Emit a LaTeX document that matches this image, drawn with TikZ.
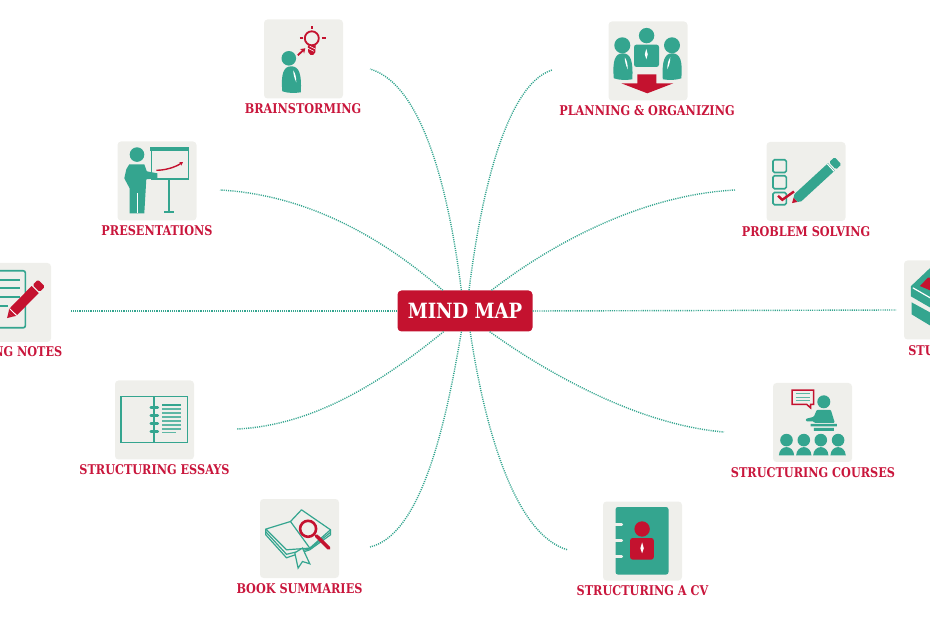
\documentclass[tikz,border=0pt]{standalone}
\usepackage{fontspec}
\usepackage{xcolor}
\usetikzlibrary{calc,arrows.meta}
\newfontfamily\maplabelfont[FakeStretch=0.84]{DejaVu Serif}
\newfontfamily\mapheadfont[FakeStretch=0.86]{DejaVu Serif}
\definecolor{map_red}{HTML}{C4122F}
\definecolor{map_rose}{HTML}{C9163C}
\definecolor{map_teal}{HTML}{34A58F}
\definecolor{map_paper}{HTML}{EFEFEB}
\tikzset{
    map_tile/.style={fill=map_paper,rounded corners=3.5,minimum size=79,inner sep=0},
    map_label/.style={text=map_rose,font=\maplabelfont\bfseries\fontsize{13.4}{14}\selectfont,text height=10,text depth=0,inner sep=0,yshift=-0.8},
    map_link/.style={map_teal,line width=1.4,dash pattern=on 1.1 off 1.1},
    icon_line/.style={map_teal,line width=1.6},
    icon_red/.style={map_red,line width=1.8},
}
% bust with a white sliver: centre x, top y, side
\newcommand{\mapbust}[3]{
  \fill[map_teal,shift={(#1,#2)},xscale=#3] (-9,25) .. controls (-10.5,8) and (-8,0) .. (0,0) .. controls (8,0) and (10.5,8) .. (9.5,26) .. controls (3,27) and (-3,27) .. cycle;
  \fill[white,shift={(#1,#2)},xscale=#3] (2,4) .. controls (4,7) and (5,11) .. (5,16) .. controls (3,12) and (2,8) .. cycle;
}
% pencil: tip x, tip y, angle, length, body colour, tip colour
\newcommand{\mappencil}[6]{
  \begin{scope}[shift={(#1,#2)},rotate=#3]
    \fill[#6] (0,0) -- (5,3) -- (5,-3) -- cycle;
    \fill[#5] (5,3) -- (8,5) -- ({#4-9},5) -- ({#4-9},-5) -- (8,-5) -- (5,-3) -- cycle;
    \fill[#5,rounded corners=1.5] ({#4-7.5},5) -- (#4,5) -- (#4,-5) -- ({#4-7.5},-5) -- cycle;
  \end{scope}
}
\begin{document}
\begin{tikzpicture}[x=1pt,y=-1pt]
  \useasboundingbox (0,0) rectangle (930,620);
  \node[fill=map_red,rounded corners=4,minimum width=135,minimum height=41,inner sep=0,text=white,font=\mapheadfont\bfseries\fontsize{21}{22}\selectfont] (mind_map) at (465,311) {MIND MAP};
  % tiles
  \node[map_tile] (tile_brain) at (303.5,59) {};
  \node[map_tile] (tile_plan) at (648,61) {};
  \node[map_tile] (tile_pres) at (157,181) {};
  \node[map_tile] (tile_prob) at (806,181.5) {};
  \node[map_tile] (tile_notes) at (11.5,302.5) {};
  \node[map_tile] (tile_study) at (943.5,300) {};
  \node[map_tile] (tile_essay) at (154.5,420) {};
  \node[map_tile] (tile_course) at (812.5,422.5) {};
  \node[map_tile] (tile_book) at (299.5,538.5) {};
  \node[map_tile] (tile_cv) at (642.5,541) {};
  % labels
  \node[map_label] (label_brain) at (303,108) {BRAINSTORMING};
  \node[map_label] (label_plan) at (647,110) {PLANNING \& ORGANIZING};
  \node[map_label] (label_pres) at (157,230) {PRESENTATIONS};
  \node[map_label] (label_prob) at (806,231) {PROBLEM SOLVING};
  \node[map_label] (label_notes) at (12,351) {TAKING NOTES};
  \node[map_label] (label_study) at (943,350) {STUDYING};
  \node[map_label] (label_essay) at (154.5,469) {STRUCTURING ESSAYS};
  \node[map_label] (label_course) at (813,472) {STRUCTURING COURSES};
  \node[map_label] (label_book) at (299.5,588) {BOOK SUMMARIES};
  \node[map_label] (label_cv) at (642.5,590) {STRUCTURING A CV};
  % free ends of the links
  \coordinate (end_brain) at (370,69);
  \coordinate (end_plan) at (552,70);
  \coordinate (end_pres) at (220,190);
  \coordinate (end_prob) at (735,190);
  \coordinate (end_notes) at (70,311);
  \coordinate (end_study) at (896,310);
  \coordinate (end_essay) at (237,429);
  \coordinate (end_course) at (724,432);
  \coordinate (end_book) at (370,547);
  \coordinate (end_cv) at (568,550);
  % links
  \draw[map_link] (mind_map.100.8) .. controls (450,200) and (425,85) .. (end_brain);
  \draw[map_link] (mind_map.79) .. controls (480,200) and (505,85) .. (end_plan);
  \draw[map_link] (mind_map.137.6) .. controls (385,240) and (310,195) .. (end_pres);
  \draw[map_link] (mind_map.38) .. controls (550,245) and (640,195) .. (end_prob);
  \draw[map_link] (mind_map.west) -- (end_notes);
  \draw[map_link] (mind_map.east) -- (end_study);
  \draw[map_link] (mind_map.-136) .. controls (390,375) and (320,425) .. (end_essay);
  \draw[map_link] (mind_map.-40) .. controls (550,375) and (640,425) .. (end_course);
  \draw[map_link] (mind_map.-100.8) .. controls (445,430) and (420,535) .. (end_book);
  \draw[map_link] (mind_map.-76.6) .. controls (485,430) and (515,535) .. (end_cv);
  % brainstorming icon
  \begin{scope}[shift={(tile_brain.north west)}]
    \fill[map_teal] (25,39) circle (7.3);
    \mapbust{27.5}{47}{1}
    \draw[icon_red] (48,19) circle (7);
    \fill[map_red] (44,26) -- (52,26) -- (51.5,33) -- (49.5,35.5) -- (46.5,35.5) -- (44.5,33) -- cycle;
    \draw[white,line width=0.6] (44,29) -- (50,32) (46,27) -- (52,30);
    \draw[icon_red] (48,7) -- (48,10) (36,19) -- (39,19) (58,19) -- (62,19);
    \draw[-{Stealth[length=4.5,width=6]},icon_red] (34,36) -- (41.5,29);
  \end{scope}
  % planning icon
  \begin{scope}[shift={(tile_plan.north west)}]
    \fill[map_teal] (38.3,14.3) circle (7.7) (14,24) circle (8) (63.7,24) circle (8);
    \fill[map_teal,rounded corners=2.5] (25.7,23.3) rectangle (50.7,45.7);
    \fill[white] (38,27.5) -- (39.5,33) -- (38,38) -- (36.5,33) -- cycle;
    \mapbust{14.5}{32}{1}
    \mapbust{64}{32}{-1}
    \fill[map_red] (29,53) -- (48,53) -- (48,62) -- (65,62) -- (39,72) -- (13,62) -- (29,62) -- cycle;
  \end{scope}
  % presentations icon
  \begin{scope}[shift={(tile_pres.north west)}]
    \fill[map_teal] (19.7,13.3) circle (7.3);
    \fill[map_teal] (12,23) -- (27,23) -- (29.5,30) -- (40,32) -- (40,37) -- (29,38) -- (27,72) -- (12.3,72) -- (12.3,47) -- (7,37) -- (9,28) -- cycle;
    \draw[white,line width=1] (19.7,52) -- (19.7,72);
    \draw[icon_line] (34,8) rectangle (71,38);
    \fill[map_teal] (32.5,6) rectangle (72,10);
    \draw[icon_line] (51.7,38) -- (51.7,70);
    \draw[map_teal,line width=2.2] (47,71) -- (57,71);
    \draw[-{Stealth[length=3.5,width=4]},map_red,line width=1.4] (39,29) .. controls (48,29) and (58,26) .. (65.7,20.7);
  \end{scope}
  % problem solving icon
  \begin{scope}[shift={(tile_prob.north west)}]
    \draw[icon_line,rounded corners=1.5] (6.7,18) rectangle (20,30.7) (6.7,34) rectangle (20,47) (6.7,50.7) rectangle (20,63);
    \draw[map_red,line width=2.4] (11.7,54) -- (16,58) -- (27.7,49.7);
    \mappencil{25.7}{61.3}{42.6}{62.5}{map_teal}{map_red}
    \fill[white,shift={(25.7,61.3)},rotate=42.6] (52,5) rectangle (53,-5);
  \end{scope}
  % taking notes icon
  \begin{scope}[shift={(tile_notes.north west)}]
    \draw[icon_line,rounded corners=2] (16,8) rectangle (53.5,65);
    \draw[map_teal,line width=2.2] (20,17) -- (48,17) (20,25.5) -- (48,25.5) (20,34.5) -- (48,34.5) (20,43) -- (36,43);
    \mappencil{35.3}{55.3}{45.5}{49}{map_red}{map_red}
    \fill[white,shift={(35.3,55.3)},rotate=45.5] (8,5) rectangle (9,-5);
  \end{scope}
  % studying icon
  \begin{scope}[shift={(tile_study.north west)}]
    \fill[map_teal] (7,26) -- (26,8) -- (55,8) -- (55,64) -- (26,47) -- (7,36) -- cycle;
    \fill[map_red] (16,25.7) -- (24.3,17.3) -- (50,17) -- (50,40) -- cycle;
    \draw[white,line width=1.2] (9,27.5) -- (55,54);
    \fill[map_teal] (7.7,42) -- (26,52) -- (55,69) -- (55,82) -- (26,65) -- (7.7,54) -- cycle;
  \end{scope}
  % structuring essays icon
  \begin{scope}[shift={(tile_essay.north west)}]
    \draw[icon_line] (6,16.3) rectangle (72.7,62.3);
    \draw[icon_line] (39.3,16.3) -- (39.3,62.3);
    \foreach \ringy in {27.3,35,43,51}
      \draw[map_teal,line width=2.6,line cap=round] (36,\ringy) -- (43,\ringy);
    \draw[map_teal,line width=1.6] (47.3,24.7) -- (66,24.7);
    \foreach \liney in {28.7,32.7,36.7,40.7,44.7,48.7}
      \draw[map_teal!80,line width=1.1] (47.3,\liney) -- (66,\liney);
    \draw[map_teal!80,line width=1.1] (47.3,52.3) -- (60.7,52.3);
  \end{scope}
  % structuring courses icon
  \begin{scope}[shift={(tile_course.north west)}]
    \draw[icon_red,line width=1.5] (19.3,7.3) -- (40.7,7.3) -- (40.7,21.7) -- (37.7,21.7) -- (37.7,25) -- (34,21.7) -- (19.3,21.7) -- cycle;
    \foreach \liney in {11,14.3,17.7}
      \draw[map_teal!80,line width=1] (22.7,\liney) -- (37.3,\liney);
    \fill[map_teal] (51,19) circle (6.5);
    \fill[map_teal,rounded corners=1] (44,27) -- (58,27) -- (62,40) -- (41,40) -- (41,38.5) -- (33,38.5) -- (33,36) -- (41,34) -- cycle;
    \fill[map_teal] (37.7,41) rectangle (64,43.5) (41,45) rectangle (61,48);
    \foreach \seatx in {13.7,31,48,65.3}{
      \fill[map_teal] (\seatx,57.3) circle (6.3);
      \fill[map_teal] ($(\seatx,72.7)+(-7.7,0)$) .. controls ($(\seatx,61.5)+(-7,0)$) and ($(\seatx,61.5)+(7,0)$) .. ($(\seatx,72.7)+(7.7,0)$) -- cycle;
    }
  \end{scope}
  % book summaries icon
  \begin{scope}[shift={(tile_book.north west)}]
    \draw[map_teal,line width=1.2] (6,30.3) -- (6,36) -- (26.7,59) -- (50,51) -- (70.7,36) -- (70.7,31);
    \draw[map_teal,line width=1.2] (6,33) -- (26.7,55.5) -- (50,50) -- (70.7,33.5);
    \draw[map_teal,line width=1.2,line join=round] (30.7,22.7) -- (41.7,11) -- (70.7,31) -- (50,49.3) -- cycle;
    \draw[map_teal,line width=1.2,line join=round] (30.7,22.7) -- (6,30.3) -- (26.7,51) -- (50,49.3);
    \filldraw[map_teal,line width=1.2,fill=map_paper] (35,54) -- (38.3,69.3) -- (42.7,62.7) -- (50,65) -- (42.7,49.3) -- cycle;
    \draw[map_red,line width=2.6] (48.3,30) circle (8);
    \draw[map_red,line width=3.5,line cap=round] (56.5,37) -- (69,49.3);
  \end{scope}
  % structuring a cv icon
  \begin{scope}[shift={(tile_cv.north west)}]
    \fill[map_teal,rounded corners=2.5] (12.7,5.7) rectangle (65.7,73.3);
    \foreach \tabby in {23.3,39.3,55.3}
      \draw[map_paper,line width=2.6,line cap=round] (12,\tabby) -- (19,\tabby);
    \fill[map_red] (39.3,27.7) circle (7.7);
    \fill[map_red,rounded corners=2.5] (27.3,36.7) rectangle (51,58.3);
    \fill[white] (39.3,41) -- (41,47) -- (39.3,52) -- (37.6,47) -- cycle;
  \end{scope}
\end{tikzpicture}
\end{document}
